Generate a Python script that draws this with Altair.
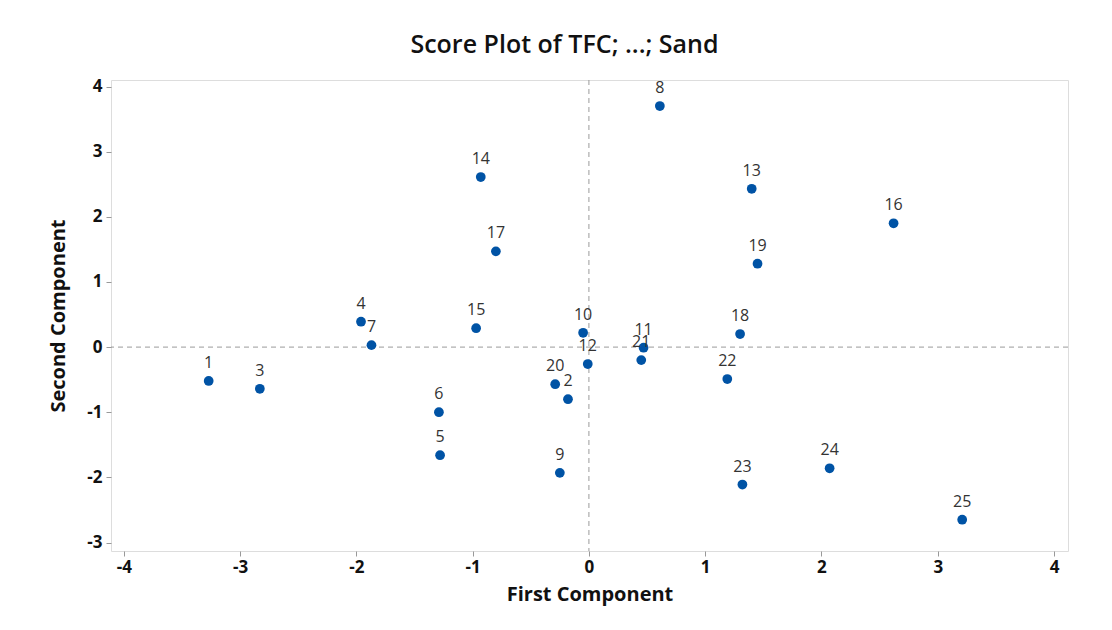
import altair as alt
import pandas as pd

labels = [str(i) for i in range(1, 26)]
first = [-3.27, -0.18, -2.83, -1.96, -1.28, -1.29, -1.87, 0.61, -0.25, -0.05,
         0.47, -0.01, 1.40, -0.93, -0.97, 2.62, -0.80, 1.30, 1.45, -0.29,
         0.45, 1.19, 1.32, 2.07, 3.21]
second = [-0.52, -0.80, -0.64, 0.39, -1.66, -1.00, 0.03, 3.70, -1.93, 0.22,
          -0.01, -0.26, 2.43, 2.61, 0.29, 1.90, 1.47, 0.20, 1.28, -0.57,
          -0.20, -0.49, -2.11, -1.86, -2.65]
x_ticks = [-4, -3, -2, -1, 0, 1, 2, 3, 4]
y_ticks = [-3, -2, -1, 0, 1, 2, 3, 4]

df = pd.DataFrame({"label": labels, "First": first, "Second": second})
ref_x = pd.DataFrame({"v": [0]})
ref_y = pd.DataFrame({"v": [0]})

FONT = "Open Sans"
xs = alt.Scale(domain=[-4.11, 4.12], nice=False, zero=False)
ys = alt.Scale(domain=[-3.13, 4.10], nice=False, zero=False)

xaxis = alt.Axis(title="First Component", values=x_ticks,
                 grid=False, domain=False, tickColor="#999999", tickSize=5,
                 labelFontSize=17, labelFontWeight="bold", labelColor="#111111",
                 labelFont=FONT, titleFont=FONT, titleFontSize=20, titleFontWeight="bold",
                 titleColor="#111111", labelPadding=3, titlePadding=9,
                 labelExpr="toString(datum.value)")
yaxis = alt.Axis(title="Second Component", values=y_ticks,
                 grid=False, domain=False, tickColor="#999999", tickSize=5,
                 labelFontSize=17, labelFontWeight="bold", labelColor="#111111",
                 labelFont=FONT, titleFont=FONT, titleFontSize=20, titleFontWeight="bold",
                 titleColor="#111111", labelPadding=4, titlePadding=18,
                 labelExpr="toString(datum.value)")

vline = alt.Chart(ref_x).mark_rule(color="#9a9a9a", strokeDash=[5, 4], strokeWidth=1).encode(
    x=alt.X("v:Q", scale=xs, axis=xaxis))
hline = alt.Chart(ref_y).mark_rule(color="#9a9a9a", strokeDash=[5, 4], strokeWidth=1).encode(
    y=alt.Y("v:Q", scale=ys, axis=yaxis))

pts = alt.Chart(df).mark_point(filled=True, shape="circle", size=95, color="#0053a5", opacity=1).encode(
    x=alt.X("First:Q", scale=xs, axis=xaxis),
    y=alt.Y("Second:Q", scale=ys, axis=yaxis))

txt = alt.Chart(df).mark_text(dy=-18, fontSize=16, font=FONT, color="#333333").encode(
    x=alt.X("First:Q", scale=xs, axis=xaxis),
    y=alt.Y("Second:Q", scale=ys, axis=yaxis),
    text="label:N")

chart = alt.layer(vline, hline, pts, txt).properties(
    width=957, height=471,
    title=alt.TitleParams("Score Plot of TFC; ...; Sand", font=FONT, fontSize=25,
                          fontWeight=600, color="#111111", offset=20, dx=-25),
    autosize=alt.AutoSizeParams(type="none"),
    padding={"left": 103, "top": 72, "right": 30, "bottom": 60},
).configure_view(stroke="#a8a8a8", strokeWidth=1.5).configure(background="white")

chart.save("out.html", embed_options={"renderer": "svg", "actions": False})
